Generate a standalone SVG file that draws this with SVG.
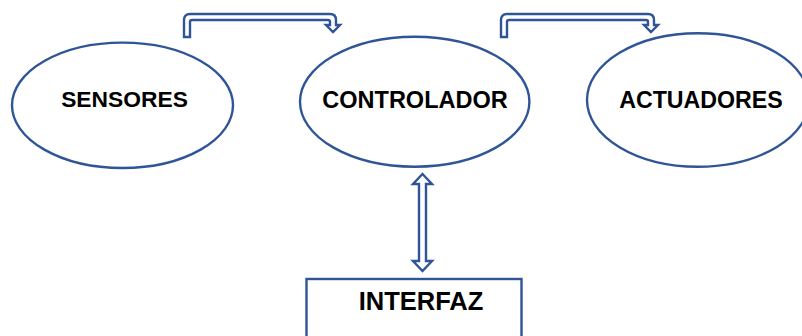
<svg xmlns="http://www.w3.org/2000/svg" width="802" height="336" viewBox="0 0 802 336">
  <style>
    .shape { fill: #ffffff; stroke: #2f5597; stroke-width: 2.4; }
    .arrow { fill: #ffffff; stroke: #2f5597; stroke-width: 2.4; stroke-linejoin: miter; }
    .label { font-family: "Liberation Sans", Arial, sans-serif; font-weight: bold; fill: #000000; text-anchor: middle; }
  </style>
  <rect width="802" height="336" fill="#ffffff"/>

  <g id="connectors">
    <!-- sensors to controller -->
    <path class="arrow" d="M184,37 V20 Q184,14 190,14 H330 Q336,14 336,20 V25 H340 L333,32 L326,25 H330 V22 Q330,20 328,20 H192 Q190,20 190,22 V37 Z"/>
    <!-- controller to actuators -->
    <path class="arrow" d="M501,37 V20 Q501,14 507,14 H648 Q654,14 654,20 V25 H658 L651,32 L644,25 H648 V22 Q648,20 646,20 H509 Q507,20 507,22 V37 Z"/>
    <!-- controller to interface (both ways) -->
    <path class="arrow" d="M422.5,174 L432,184 H426 V261 H432 L422.5,271 L413,261 H419 V184 H413 Z"/>
  </g>

  <g id="sensores">
    <ellipse class="shape" cx="122.5" cy="105.3" rx="110.5" ry="62.7"/>
    <text class="label" x="124.5" y="107" font-size="22.8">SENSORES</text>
  </g>

  <g id="controlador">
    <ellipse class="shape" cx="414.7" cy="101.7" rx="114.7" ry="65"/>
    <text class="label" x="415" y="108" font-size="23.5">CONTROLADOR</text>
  </g>

  <g id="actuadores">
    <ellipse class="shape" cx="698" cy="100" rx="111" ry="66.7"/>
    <text class="label" x="701" y="107.7" font-size="23.2">ACTUADORES</text>
  </g>

  <g id="interfaz">
    <rect class="shape" x="306.5" y="279" width="215" height="70"/>
    <text class="label" x="421" y="310" font-size="25.5">INTERFAZ</text>
  </g>
</svg>
